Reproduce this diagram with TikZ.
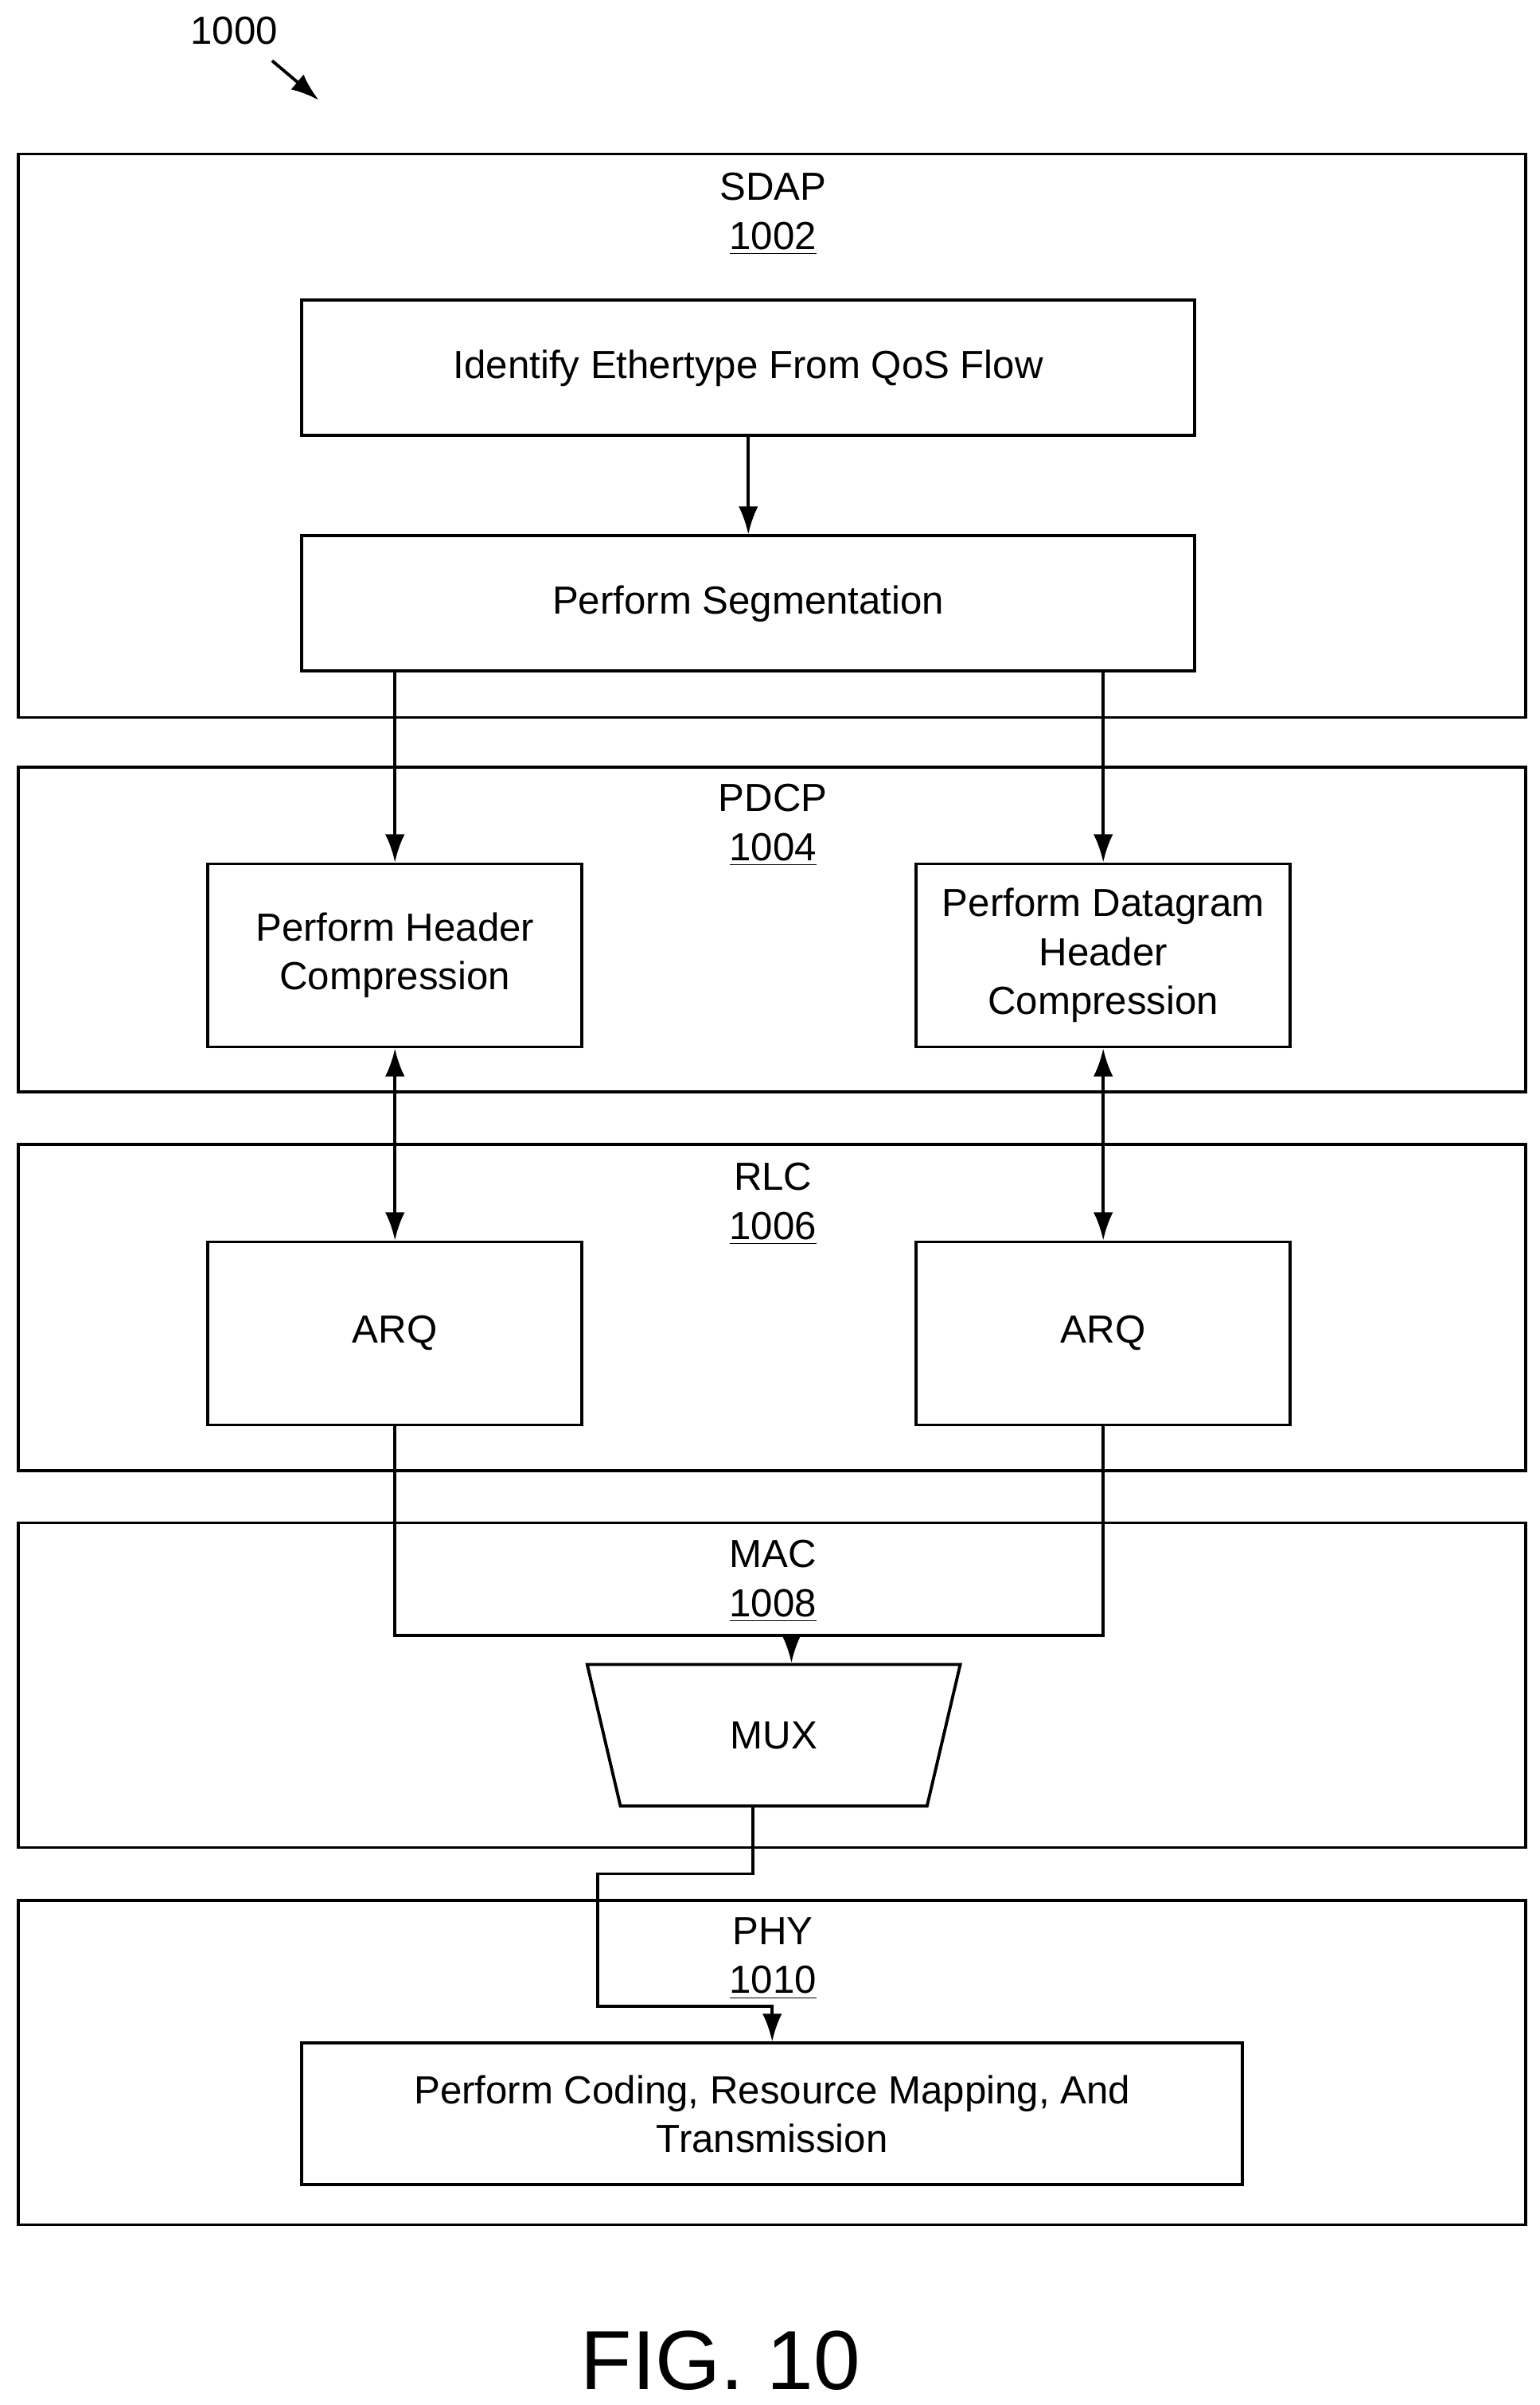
\documentclass[tikz,border=0pt]{standalone}
\usepackage{fontspec}
\setmainfont{Liberation Sans}
\usetikzlibrary{positioning,arrows.meta,shapes.geometric}

\tikzset{
	layer/.style={draw, line width=1.1pt, minimum width=18.94cm},
	stage/.style={draw, line width=1.1pt, align=center, font=\fontsize{14}{17.5}\selectfont},
	tag/.style={align=center, font=\fontsize{14}{17.5}\selectfont},
	flow/.style={line width=1.1pt, -{Latex[length=10pt,width=7pt]}},
	both/.style={line width=1.1pt, {Latex[length=10pt,width=7pt]}-{Latex[length=10pt,width=7pt]}},
}

\begin{document}
\begin{tikzpicture}[x=0.01935cm, y=-0.01935cm]
	\useasboundingbox (0,0) rectangle (1000,1562);
	
	% layers
	\node[layer, minimum height=7.08cm] (sdap) at (501.5,283) {};
	\node[layer, minimum height=4.08cm] (pdcp) at (501.5,603.5) {};
	\node[layer, minimum height=4.10cm] (rlc) at (501.5,849) {};
	\node[layer, minimum height=4.08cm] (mac) at (501.5,1094.5) {};
	\node[layer, minimum height=4.08cm] (phy) at (501.5,1339.5) {};
	
	\node[tag] (sdaplbl) at (502,139) {SDAP\\\underline{1002}};
	\node[tag] (pdcplbl) at (502,536) {PDCP\\\underline{1004}};
	\node[tag] (rlclbl) at (502,782) {RLC\\\underline{1006}};
	\node[tag] (maclbl) at (502,1027) {MAC\\\underline{1008}};
	\node[tag] (phylbl) at (502,1272) {PHY\\\underline{1010}};
	
	% stages
	\node[stage, minimum width=11.22cm, minimum height=1.70cm] (ident) at (486,239) {Identify Ethertype From QoS Flow};
	\node[stage, minimum width=11.22cm, minimum height=1.70cm] (seg) at (486,392) {Perform Segmentation};
	\node[stage, minimum width=4.70cm, minimum height=2.30cm] (hdr) at (256.5,620.5) {Perform Header\\Compression};
	\node[stage, minimum width=4.70cm, minimum height=2.30cm] (dgram) at (716.5,620.5) {Perform Datagram\\Header\\Compression};
	\node[stage, minimum width=4.70cm, minimum height=2.30cm] (arqa) at (256.5,866) {ARQ};
	\node[stage, minimum width=4.70cm, minimum height=2.30cm] (arqb) at (716.5,866) {ARQ};
	\node[stage, trapezium, shape border rotate=180, trapezium stretches=true,
		trapezium left angle=76, trapezium right angle=76,
		minimum width=4.70cm, minimum height=1.78cm] (mux) at (502.5,1127) {MUX};
	\node[stage, minimum width=11.82cm, minimum height=1.78cm] (code) at (501.5,1373) {Perform Coding, Resource Mapping, And\\Transmission};
	
	\coordinate (join) at (514,1062);
	\coordinate (jog) at (388,1217);
	\coordinate (muxout) at (489,1174);
	
	% connectors
	\draw[flow] (seg.south -| hdr.north) -- (hdr.north);
	\draw[flow] (ident) -- (seg);
	\draw[flow] (seg.south -| dgram.north) -- (dgram.north);
	\draw[both] (hdr.south) -- (arqa.north);
	\draw[both] (dgram.south) -- (arqb.north);
	\draw[line width=1.1pt] (arqa.south) |- (join) -| (arqb.south);
	\draw[flow] (join) -- (join |- mux.north);
	\draw[flow] (muxout) |- (jog) |- (code.north |- 0,1303) -- (code.north);
	
	% reference
	\node[font=\fontsize{14}{17}\selectfont] (ref) at (152,20) {1000};
	\coordinate (refend) at (207,65);
	\draw[flow] (ref.south east) ++(-10,4) -- (refend);
	\node[font=\fontsize{30}{36}\selectfont] (fig) at (468,1533) {FIG. 10};
\end{tikzpicture}
\end{document}
